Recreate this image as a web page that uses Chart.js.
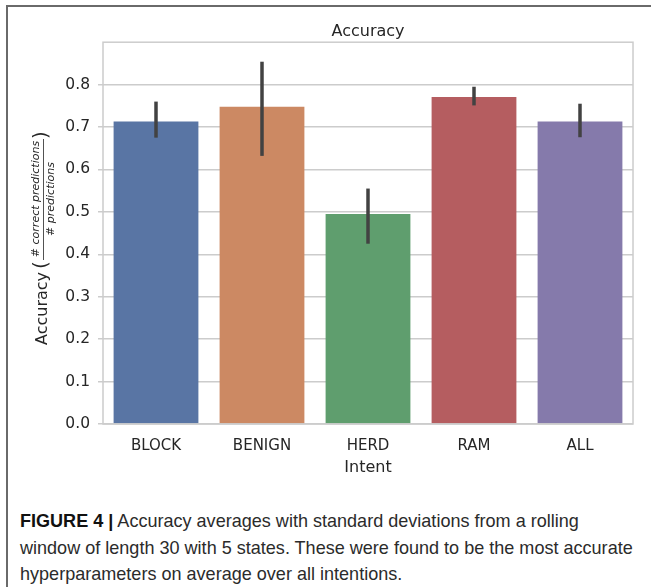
<!DOCTYPE html>
<html>
<head>
<meta charset="utf-8">
<script src="https://cdn.jsdelivr.net/npm/chart.js@4/dist/chart.umd.min.js"></script>
<style>
	html, body { margin: 0; padding: 0; background: #fff; }
	body { width: 651px; height: 587px; position: relative; overflow: hidden; }
	#frame {
		position: absolute; left: 6px; top: 5px; right: -5px; bottom: -5px;
		border-top: 2px solid #6a6a6a; border-left: 2px solid #6a6a6a;
	}
	#chart { position: absolute; left: 0; top: 0; }
	#caption {
		position: absolute; left: 20px; top: 508px;
		font-family: "Liberation Sans Narrow", "Liberation Sans", Arial, sans-serif;
		font-size: 19px; line-height: 26.5px; color: #2b2b2b; white-space: nowrap;
		transform: scaleX(0.95); transform-origin: left top;
	}
	#caption b { color: #111; }
</style>
</head>
<body>
<div id="frame"></div>
<canvas id="chart" width="651" height="490"></canvas>
<div id="caption"><b>FIGURE 4 |</b> Accuracy averages with standard deviations from a rolling<br>window of length 30 with 5 states. These were found to be the most accurate<br>hyperparameters on average over all intentions.</div>
<script>
const intents = ['BLOCK', 'BENIGN', 'HERD', 'RAM', 'ALL'];
const accuracy = [0.713, 0.748, 0.495, 0.771, 0.713];
const errLow = [0.675, 0.632, 0.425, 0.751, 0.676];
const errHigh = [0.760, 0.854, 0.555, 0.795, 0.755];
const barColors = ['#5975a4', '#cc8963', '#5f9e6e', '#b55d60', '#857aab'];
const yTicks = [0, 0.1, 0.2, 0.3, 0.4, 0.5, 0.6, 0.7, 0.8];

const textColor = '#262626';
const gridColor = '#cccccc';

// frame round the axes (seaborn whitegrid spines)
const frame = {
	id: 'frame',
	afterDatasetsDraw(chart) {
		const {ctx, chartArea: a} = chart;
		ctx.save();
		ctx.strokeStyle = gridColor;
		ctx.lineWidth = 1.5;
		ctx.strokeRect(a.left, a.top, a.right - a.left, a.bottom - a.top);
		ctx.restore();
	}
};

const errorBars = {
	id: 'errorBars',
	afterDatasetsDraw(chart) {
		const {ctx, scales: {x, y}} = chart;
		ctx.save();
		ctx.strokeStyle = '#424242';
		ctx.lineWidth = 3.5;
		intents.forEach((name, i) => {
			const px = x.getPixelForValue(i);
			ctx.beginPath();
			ctx.moveTo(px, y.getPixelForValue(errLow[i]));
			ctx.lineTo(px, y.getPixelForValue(errHigh[i]));
			ctx.stroke();
		});
		ctx.restore();
	}
};

// y label with the little fraction, drawn rotated
const yLabel = {
	id: 'yLabel',
	afterDraw(chart) {
		const {ctx} = chart;
		ctx.save();
		ctx.translate(43, 345);
		ctx.rotate(-Math.PI / 2);
		ctx.fillStyle = textColor;
		ctx.textBaseline = 'middle';
		ctx.textAlign = 'left';
		ctx.font = '16px "DejaVu Sans"';
		ctx.fillText('Accuracy', 0, 0);
		ctx.font = '20px "DejaVu Sans"';
		ctx.fillText('(', 76, -1);
		ctx.fillText(')', 206, -1);
		ctx.textAlign = 'center';
		ctx.font = 'italic 11px "DejaVu Sans"';
		ctx.fillText('# correct predictions', 146, -7);
		ctx.fillText('# predictions', 146, 8);
		ctx.strokeStyle = textColor;
		ctx.lineWidth = 0.8;
		ctx.beginPath();
		ctx.moveTo(85, 0.5);
		ctx.lineTo(206, 0.5);
		ctx.stroke();
		ctx.restore();
	}
};

new Chart(document.getElementById('chart'), {
	type: 'bar',
	data: {
		labels: intents,
		datasets: [{
			label: 'Accuracy',
			data: accuracy,
			backgroundColor: barColors,
			borderWidth: 0,
			categoryPercentage: 0.8,
			barPercentage: 1
		}]
	},
	options: {
		responsive: false,
		animation: false,
		devicePixelRatio: 1,
		layout: { padding: { left: 0, right: 18, top: 0, bottom: 0 } },
		plugins: {
			legend: { display: false },
			tooltip: { enabled: false },
			title: {
				display: true,
				text: 'Accuracy',
				color: textColor,
				fullSize: false,
				font: { family: 'DejaVu Sans', size: 16, weight: 'normal' },
				padding: { top: 22, bottom: 1 }
			}
		},
		scales: {
			x: {
				grid: { display: false, drawTicks: false },
				border: { display: false },
				ticks: { color: textColor, padding: 13, font: { family: 'DejaVu Sans', size: 15 } },
				title: {
					display: true,
					text: 'Intent',
					color: textColor,
					font: { family: 'DejaVu Sans', size: 16 },
					padding: { top: 0, bottom: 13 }
				},
				afterFit: scale => { scale.height = 66; }
			},
			y: {
				min: 0,
				max: 0.9,
				afterBuildTicks: scale => { scale.ticks = yTicks.map(v => ({ value: v })); },
				grid: { color: gridColor, lineWidth: 1.5, tickLength: 5 },
				border: { display: false },
				ticks: {
					color: textColor,
					padding: 8,
					font: { family: 'DejaVu Sans', size: 15.5 },
					callback: v => v.toFixed(1)
				},
				afterFit: scale => { scale.width = 103; }
			}
		}
	},
	plugins: [frame, errorBars, yLabel]
});
</script>
</body>
</html>
